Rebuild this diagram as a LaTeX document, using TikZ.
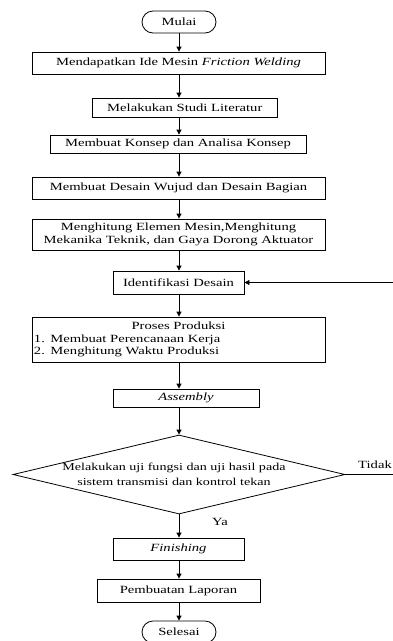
\documentclass[tikz,border=0pt]{standalone}
\usepackage{fontspec}
\setmainfont[FakeStretch=1.33]{Liberation Serif}
\usetikzlibrary{arrows.meta,shapes.geometric}
\begin{document}
\begin{tikzpicture}[x=1pt,y=-1pt,
  every node/.style={font=\fontsize{11}{12.3}\selectfont},
  box/.style={draw,line width=0.8pt,rectangle,inner sep=1pt,align=center},
  term/.style={draw,line width=0.8pt,rectangle,rounded corners=11pt,minimum width=74pt,minimum height=22pt,inner sep=0pt},
  arr/.style={line width=0.8pt,-{Triangle[length=5pt,width=5pt]}},
  lbl/.style={inner sep=0pt}]
\useasboundingbox (0,0) rectangle (392,641);
\node[term] (mulai) at (179,22) {Mulai};
\node[box,minimum width=293pt,minimum height=22pt] (b1) at (178.5,63) {Mendapatkan Ide Mesin \textit{Friction Welding}};
\node[box,minimum width=185pt,minimum height=19pt] (b2) at (184.8,107.5) {Melakukan Studi Literatur};
\node[box,minimum width=256pt,minimum height=18pt] (b3) at (178,144) {Membuat Konsep dan Analisa Konsep};
\node[box,minimum width=293pt,minimum height=22pt] (b4) at (178.5,188) {Membuat Desain Wujud dan Desain Bagian};
\node[box,minimum width=293pt,minimum height=31pt] (b5) at (178.5,234.5) {Menghitung Elemen Mesin,Menghitung\\Mekanika Teknik, dan Gaya Dorong Aktuator};
\node[box,minimum width=131pt,minimum height=23pt] (ident) at (178.5,282.5) {Identifikasi Desain};
\node[box,minimum width=293pt,minimum height=45pt,text width=289pt,align=left,inner xsep=2pt] (prod) at (178.5,339.5) {\makebox[\linewidth]{Proses Produksi}\\1. Membuat Perencanaan Kerja\\2. Menghitung Waktu Produksi};
\node[box,minimum width=146pt,minimum height=18pt] (asm) at (186,398) {\textit{Assembly}};
\node[draw,line width=0.8pt,diamond,minimum width=332pt,minimum height=79pt,inner sep=0pt,shape aspect=4.2] (dec) at (179,474.5) {};
\node[lbl,align=center,font=\fontsize{10.6}{14.5}\selectfont] (dtext) at (174,474.5) {Melakukan uji fungsi dan uji hasil pada\\sistem transmisi dan kontrol tekan};
\node[box,minimum width=131pt,minimum height=22pt] (fin) at (178.5,549) {\textit{Finishing}};
\node[box,minimum width=163pt,minimum height=23pt] (lap) at (178.5,590.5) {Pembuatan Laporan};
\node[term] (sel) at (179,632) {Selesai};
\node[lbl] (ya) at (220,522) {Ya};
\node[lbl] (tidak) at (375,465) {Tidak};
\coordinate (back) at (396,474.5);
\draw[arr] (mulai.south) -- (mulai.south |- b1.north);
\draw[arr] (mulai.south |- b1.south) -- (mulai.south |- b2.north);
\draw[arr] (mulai.south |- b2.south) -- (mulai.south |- b3.north);
\draw[arr] (mulai.south |- b3.south) -- (mulai.south |- b4.north);
\draw[arr] (mulai.south |- b4.south) -- (mulai.south |- b5.north);
\draw[arr] (mulai.south |- b5.south) -- (mulai.south |- ident.north);
\draw[arr] (mulai.south |- ident.south) -- (mulai.south |- prod.north);
\draw[arr] (mulai.south |- prod.south) -- (mulai.south |- asm.north);
\draw[arr] (mulai.south |- asm.south) -- (dec.north);
\draw[arr] (dec.south) -- (mulai.south |- fin.north);
\draw[arr] (mulai.south |- fin.south) -- (mulai.south |- lap.north);
\draw[arr] (mulai.south |- lap.south) -- (sel.north);
\draw[arr] (dec.east) -- (back) |- (ident.east);
\end{tikzpicture}
\end{document}
